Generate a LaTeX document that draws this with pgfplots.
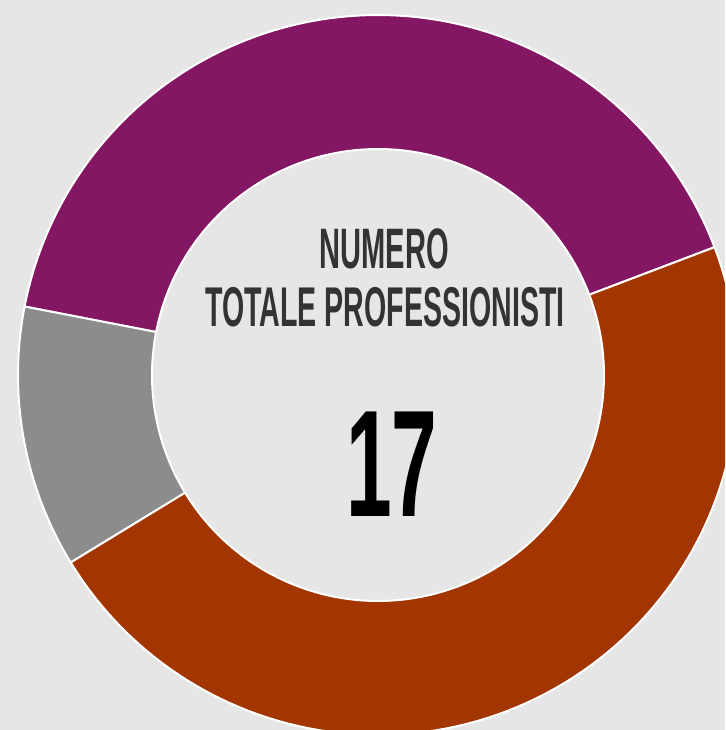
\documentclass[border=0pt]{standalone}
\usepackage{pgfplots}
\usepackage{pgfplotstable}
\pgfplotsset{compat=1.18}
\usepackage{fontspec}
\setmainfont{Liberation Sans}
\newfontfamily\condfont{Liberation Sans}[FakeStretch=0.51]
\newfontfamily\numfont{Liberation Sans}[FakeStretch=0.54]
\definecolor{bgc}{HTML}{E6E6E6}
\definecolor{purp}{HTML}{841764}
\definecolor{oran}{HTML}{A33500}
\definecolor{greyc}{HTML}{8C8C8C}
\definecolor{txt}{HTML}{333333}

\pgfplotstableread{
label value
Purple 7
Grey 2
Orange 8
}\datatable

% ring segment: #1 start angle, #2 end angle, #3 colour
\newcommand\ringseg[3]{%
\addplot[fill=#3, draw=white, line width=1pt, samples at={0,1,...,201}, variable=\t]
 ({378+((\t<100.5) ? 360 : 226)*cos((\t<100.5) ? (#1+(#2-#1)*\t/100) : (#2-(#2-#1)*(\t-101)/100))},
  {355+((\t<100.5) ? 360 : 226)*sin((\t<100.5) ? (#1+(#2-#1)*\t/100) : (#2-(#2-#1)*(\t-101)/100))}) -- cycle;
}

\begin{document}%
\begin{tikzpicture}
\pgfplotstablegetelem{0}{value}\of\datatable \let\vA\pgfplotsretval
\pgfplotstablegetelem{1}{value}\of\datatable \let\vB\pgfplotsretval
\pgfplotstablegetelem{2}{value}\of\datatable \let\vC\pgfplotsretval
\pgfmathsetmacro\tot{\vA+\vB+\vC}
\pgfmathsetmacro\aA{20.8}
\pgfmathsetmacro\aB{\aA+360*\vA/\tot}
\pgfmathsetmacro\aC{\aB+360*\vB/\tot}
\pgfmathsetmacro\aD{\aC+360*\vC/\tot}
\begin{axis}[
  name=ax,
  scale only axis, width=362.5pt, height=365pt,
  xmin=0, xmax=725, ymin=0, ymax=730,
  axis line style={draw=none}, ticks=none,
  axis background/.style={fill=bgc},
]
\ringseg{\aA}{\aB}{purp}
\ringseg{\aB}{\aC}{greyc}
\ringseg{\aC}{\aD}{oran}
\node[text=txt, font=\condfont\bfseries\fontsize{28.5}{30}\selectfont, inner sep=0pt] at (axis cs:384.3,481.2) {NUMERO};
\node[text=txt, font=\condfont\bfseries\fontsize{28}{30}\selectfont, inner sep=0pt] at (axis cs:385,422.7) {TOTALE PROFESSIONISTI};
\node[text=black, font=\numfont\bfseries\fontsize{76}{80}\selectfont, inner sep=0pt] at (axis cs:392,265.5) {17};
\end{axis}
\pgfresetboundingbox
\path[use as bounding box] (ax.south west) rectangle (ax.north east);
\end{tikzpicture}%
\end{document}
